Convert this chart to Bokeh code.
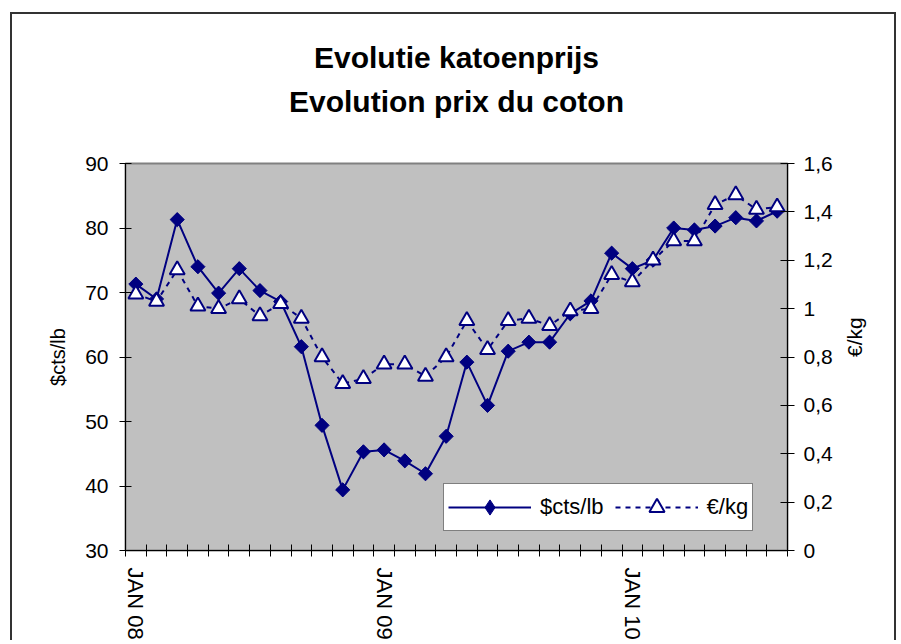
import math
from bokeh.plotting import figure
from bokeh.models import (Range1d, LinearAxis, FixedTicker, Legend, LegendItem,
                          Title)
from bokeh.embed import file_html
from bokeh.resources import INLINE

# ---- data -------------------------------------------------------------
months = [
    "JAN 08", "FEB 08", "MAR 08", "APR 08", "MAY 08", "JUN 08",
    "JUL 08", "AUG 08", "SEP 08", "OCT 08", "NOV 08", "DEC 08",
    "JAN 09", "FEB 09", "MAR 09", "APR 09", "MAY 09", "JUN 09",
    "JUL 09", "AUG 09", "SEP 09", "OCT 09", "NOV 09", "DEC 09",
    "JAN 10", "FEB 10", "MAR 10", "APR 10", "MAY 10", "JUN 10",
    "JUL 10", "AUG 10",
]
cts_lb = [71.3, 69.0, 81.3, 74.0, 69.9, 73.7, 70.3, 68.6, 61.6, 49.4,
          39.4, 45.3, 45.6, 43.9, 41.9, 47.7, 59.2, 52.5, 60.9, 62.3,
          62.3, 66.7, 68.7, 76.1, 73.7, 75.0, 80.0, 79.7, 80.3, 81.6,
          81.1, 82.6]
eur_kg = [1.06, 1.03, 1.16, 1.01, 1.00, 1.04, 0.97, 1.02, 0.96, 0.80,
          0.69, 0.71, 0.77, 0.77, 0.72, 0.80, 0.95, 0.83, 0.95, 0.96,
          0.93, 0.99, 1.00, 1.14, 1.11, 1.20, 1.28, 1.28, 1.43, 1.47,
          1.41, 1.42]
x_tick_labels = ["JAN 08", "JAN 09", "JAN 10"]
left_ticks = [30, 40, 50, 60, 70, 80, 90]
right_ticks = [0, 0.2, 0.4, 0.6, 0.8, 1, 1.2, 1.4, 1.6]
right_tick_labels = ["0", "0,2", "0,4", "0,6", "0,8", "1", "1,2", "1,4", "1,6"]

# ---- figure -------------------------------------------------------------
FONT = "Liberation Sans"
NAVY = "#000080"

x = [i + 0.5 for i in range(len(months))]

p = figure(width=886, height=628, title=None,
           x_range=Range1d(0, len(months)), y_range=Range1d(30, 90),
           output_backend="svg", toolbar_location=None,
           min_border_left=113, min_border_right=111,
           min_border_top=149, min_border_bottom=92)
p.styles = {"margin-left": "10px", "margin-top": "12px",
            "border-top": "2px solid #333333",
            "border-left": "2px solid #333333",
            "border-right": "2px solid #333333"}
p.extra_y_ranges = {"eur": Range1d(0, 1.6)}

p.background_fill_color = "#C0C0C0"
p.border_fill_color = "white"
p.outline_line_color = "#808080"
p.outline_line_width = 2
p.xgrid.visible = False
p.ygrid.visible = False

# x axis
xa = p.xaxis[0]
jan_pos = [x[months.index(m)] for m in x_tick_labels]
xa.ticker = FixedTicker(ticks=jan_pos, minor_ticks=list(range(len(months) + 1)))
xa.major_label_overrides = {pos: lab for pos, lab in zip(jan_pos, x_tick_labels)}
xa.major_tick_in = 0
xa.major_tick_out = 0
xa.minor_tick_in = 6
xa.minor_tick_out = 6
xa.minor_tick_line_color = "black"
xa.axis_line_color = "black"
xa.major_label_orientation = "vertical"
xa.major_label_standoff = 11
xa.major_label_text_font = FONT
xa.major_label_text_font_size = "22px"
xa.major_label_text_color = "black"

# left axis
ya = p.yaxis[0]
ya.ticker = FixedTicker(ticks=left_ticks)
ya.major_tick_in = 6
ya.major_tick_out = 6
ya.minor_tick_line_color = None
ya.major_tick_line_color = "black"
ya.axis_line_color = "black"
ya.major_label_standoff = 11
ya.major_label_text_font = FONT
ya.major_label_text_font_size = "21px"
ya.major_label_text_color = "black"
ya.axis_label = "$cts/lb"
ya.axis_label_text_font = FONT
ya.axis_label_text_font_size = "20px"
ya.axis_label_text_font_style = "normal"
ya.axis_label_text_color = "black"
ya.axis_label_standoff = 13

# right axis
ra = LinearAxis(y_range_name="eur", ticker=FixedTicker(ticks=right_ticks))
ra.major_label_overrides = {t: lab for t, lab in zip(right_ticks, right_tick_labels)}
ra.major_tick_in = 7
ra.major_tick_out = 7
ra.minor_tick_line_color = None
ra.major_tick_line_color = "black"
ra.axis_line_color = "black"
ra.major_label_standoff = 9
ra.major_label_text_font = FONT
ra.major_label_text_font_size = "21px"
ra.major_label_text_color = "black"
ra.axis_label = "€/kg"
ra.axis_label_text_font = FONT
ra.axis_label_text_font_size = "21px"
ra.axis_label_text_font_style = "normal"
ra.axis_label_text_color = "black"
ra.axis_label_standoff = 19
if hasattr(ra, "axis_label_orientation"):
    ra.axis_label_orientation = math.pi / 2
p.add_layout(ra, "right")

# series
l1 = p.line(x, cts_lb, line_color=NAVY, line_width=2)
# diamond used for the legend sample (hidden under the rotated squares)
s1_key = p.scatter(x, cts_lb, marker="diamond", size=13,
                   fill_color=NAVY, line_color=NAVY)
s1 = p.scatter(x, cts_lb, marker="square", angle=math.pi / 4, size=10,
               fill_color=NAVY, line_color=NAVY)
l2 = p.line(x, eur_kg, y_range_name="eur", line_color=NAVY, line_width=2,
            line_dash="5 5")
s2 = p.scatter(x, eur_kg, y_range_name="eur", marker="triangle", size=15,
               fill_color="white", line_color=NAVY, line_width=2)

legend = Legend(items=[LegendItem(label="$cts/lb", renderers=[l1, s1_key]),
                       LegendItem(label="€/kg", renderers=[l2, s2])],
                orientation="horizontal", location=(318, 19),
                glyph_width=83, glyph_height=38, label_standoff=9,
                spacing=11, padding=4, margin=0,
                label_text_font=FONT, label_text_font_size="22px",
                label_text_color="black",
                border_line_color="black", border_line_width=1,
                background_fill_color="white", background_fill_alpha=1)
p.add_layout(legend, "center")

# titles (closest to the plot added first)
spacer = Title(text=" ", text_font_size="1px", standoff=43)
t2 = Title(text="Evolution prix du coton", align="center", text_font=FONT,
           text_font_size="30px", text_font_style="bold", text_color="black",
           standoff=0)
t1 = Title(text="Evolutie katoenprijs", align="center", text_font=FONT,
           text_font_size="30px", text_font_style="bold", text_color="black",
           standoff=17)
p.add_layout(spacer, "above")
p.add_layout(t2, "above")
p.add_layout(t1, "above")

open("out.html", "w").write(file_html(p, INLINE))
